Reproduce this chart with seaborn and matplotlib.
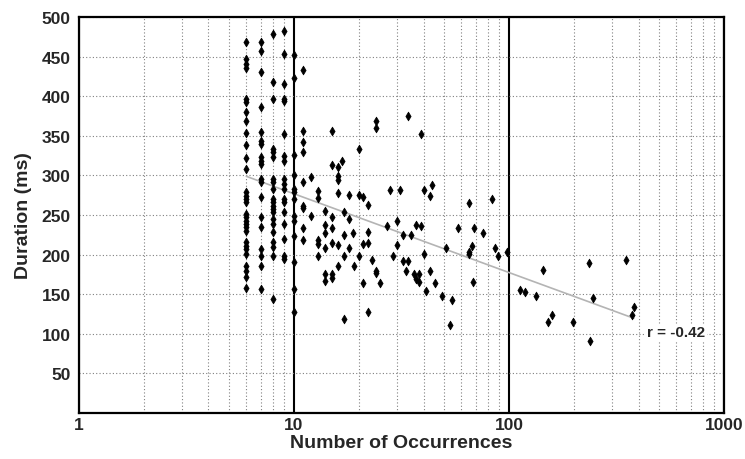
import numpy as np
import pandas as pd
import matplotlib.pyplot as plt
import seaborn as sns
from matplotlib.ticker import LogLocator, NullFormatter, FixedLocator, FixedFormatter

# durations (ms) for the dense columns at 6..11 occurrences
col6 = [468, 447, 441, 436, 396, 393, 380, 369, 354, 338, 322, 308, 279, 274, 270,
        266, 251, 247, 242, 239, 235, 230, 216, 211, 207, 201, 186, 179, 172, 158]
col7 = [468, 457, 430, 386, 355, 343, 339, 323, 318, 314, 295, 292, 273, 247, 235,
        207, 198, 186, 157]
col8 = [478, 418, 396, 333, 329, 323, 295, 292, 283, 270, 266, 261, 258, 254, 245,
        239, 229, 216, 210, 198, 144]
col9 = [482, 453, 415, 396, 394, 352, 324, 318, 295, 289, 283, 270, 266, 254, 239,
        220, 198, 194]
col10 = [452, 423, 326, 300, 283, 279, 270, 249, 242, 223, 191, 157, 128]
col11 = [433, 356, 342, 330, 292, 261, 259, 234, 218]

# remaining words: occurrences and duration
rest_occ = [12, 12, 12.9, 12.9, 12.9, 12.9, 12.9,
            14, 14, 14, 14, 14, 14,
            15, 15, 15, 15, 15, 15, 15,
            16, 16, 16, 16, 16, 16,
            16.8, 17, 17, 17, 17,
            18, 18, 18, 18.8, 19,
            20, 20, 20, 21, 21, 21,
            22, 22, 22, 22, 23, 24, 24, 24, 24, 25,
            27, 28, 29, 30, 30, 31, 32, 32, 33, 34, 34, 35,
            36, 37, 37, 38, 38, 39, 39, 40, 40, 41, 43, 43, 44, 45,
            49, 51, 53, 54, 58,
            65, 65, 65, 67, 68, 69, 76, 83, 86, 89, 98,
            113, 118, 134, 144, 151, 159, 198, 236, 245, 238, 350, 372, 380]
rest_dur = [298, 249, 280, 271, 218, 213, 198,
            255, 237, 227, 208, 176, 167,
            356, 313, 247, 234, 215, 176, 170,
            311, 299, 294, 278, 212, 186,
            318, 254, 225, 198, 119,
            275, 245, 208, 227, 186,
            333, 275, 198, 273, 213, 164,
            263, 229, 215, 128, 193, 369, 360, 179, 177, 164,
            236, 282, 198, 242, 212, 282, 225, 192, 179, 375, 192, 225,
            176, 237, 169, 176, 165, 352, 236, 282, 201, 154, 274, 179, 288, 164,
            148, 208, 111, 143, 234,
            265, 203, 201, 211, 165, 234, 227, 270, 208, 198, 203,
            155, 153, 148, 181, 115, 124, 115, 189, 145, 91, 193, 124, 134]

r_text = "r = -0.42"

occ = ([6] * len(col6) + [7] * len(col7) + [8] * len(col8) + [9] * len(col9)
       + [10] * len(col10) + [11] * len(col11) + rest_occ)
dur = col6 + col7 + col8 + col9 + col10 + col11 + rest_dur
df = pd.DataFrame({"occ": occ, "dur": dur})

sns.set_style("white")
plt.rcParams["font.family"] = ["Liberation Sans", "DejaVu Sans"]
plt.rcParams["font.weight"] = "bold"

fig, ax = plt.subplots(figsize=(7.45, 4.6), dpi=100)
fig.subplots_adjust(left=0.106, right=0.972, bottom=0.1, top=0.961)
ax.set_xscale("log")

sns.regplot(data=df, x="occ", y="dur", logx=True, ci=None, scatter=False, truncate=True,
            line_kws=dict(color="#b4b4b4", lw=1.2, zorder=3), ax=ax)
sns.scatterplot(data=df, x="occ", y="dur", marker="d", s=20, color="black",
                edgecolor="black", linewidth=0.5, zorder=4, ax=ax)

ax.set_xlim(1, 1000)
ax.set_ylim(0, 500)
ax.xaxis.set_major_locator(FixedLocator([1, 10, 100, 1000]))
ax.xaxis.set_major_formatter(FixedFormatter(["1", "10", "100", "1000"]))
ax.xaxis.set_minor_locator(LogLocator(base=10, subs=range(2, 10)))
ax.xaxis.set_minor_formatter(NullFormatter())
ax.set_yticks(range(0, 501, 50))
ax.set_yticklabels([""] + [str(v) for v in range(50, 501, 50)])

ax.set_axisbelow(True)
ax.xaxis.grid(True, which="major", ls="-", color="black", lw=1.5)
ax.xaxis.grid(True, which="minor", ls=(0, (1, 2)), color="#808080", lw=0.8)
ax.yaxis.grid(True, which="major", ls=(0, (1, 2)), color="#808080", lw=0.8)
ax.tick_params(which="both", length=0, labelsize=12.5)
ax.tick_params(axis="x", pad=3)
ax.tick_params(axis="y", pad=6)

for s in ax.spines.values():
    s.set_visible(True)
    s.set_color("black")
    s.set_linewidth(1.6)

ax.set_xlabel("Number of Occurrences", fontsize=14, fontweight="bold", labelpad=1)
ax.set_ylabel("Duration (ms)", fontsize=14, fontweight="bold", labelpad=7)

ax.text(440, 102, r_text, fontsize=11, fontweight="bold", va="center", ha="left",
        bbox=dict(facecolor="white", edgecolor="none", pad=1), zorder=5)

fig.savefig("out.png", dpi=100)
plt.close(fig)
